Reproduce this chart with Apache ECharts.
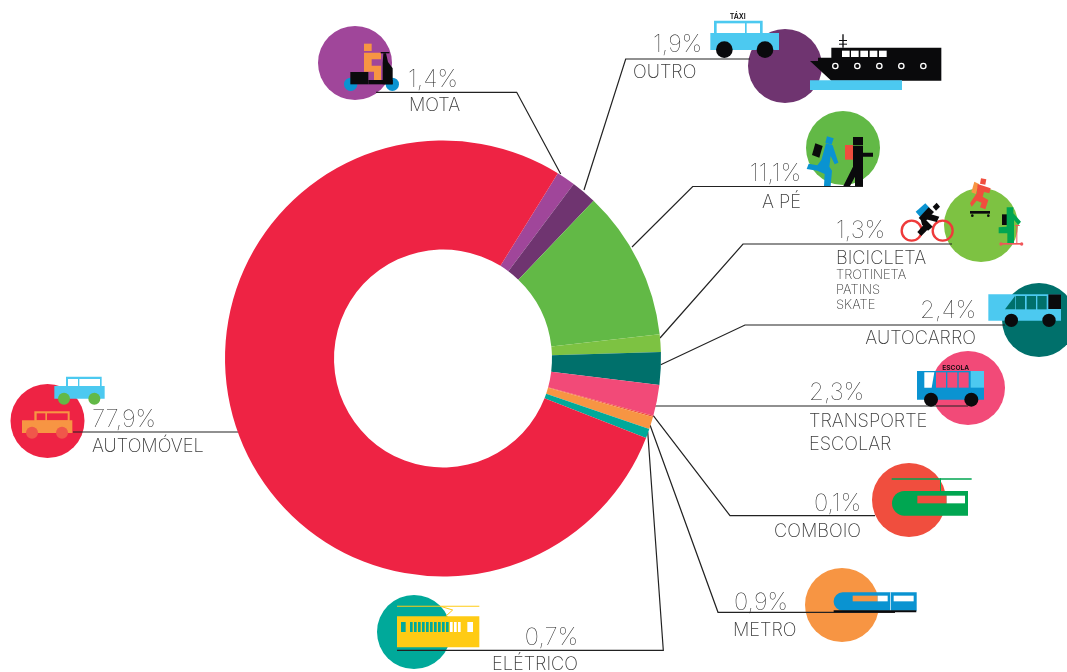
<!DOCTYPE html>
<html>
<head>
<meta charset="utf-8">
<title>Modos de transporte</title>
<style>
html,body{margin:0;padding:0;background:#fff;}
#main{width:1067px;height:672px;}
</style>
<script src="https://cdn.jsdelivr.net/npm/echarts@6/dist/echarts.min.js"></script>
</head>
<body>
<div id="main"></div>
<script>
var categories = ['MOTA','OUTRO','A PÉ','BICICLETA','AUTOCARRO','TRANSPORTE','COMBOIO','METRO','ELÉTRICO','AUTOMÓVEL'];
var shares = [1.4,1.9,11.1,1.3,2.4,2.3,0.1,0.9,0.7,77.9];
var sliceColors = ['#A0469A','#6F3470','#62B946','#7DC242','#00706B','#F24A78','#F04E3E','#F79543','#00A99A','#EE2344'];

var FONT = 'Inter, Lato, sans-serif';
var SKY = '#4CC9F0', BLUE = '#0A93D1', GREEN = '#00A651', RED = '#F04E3E', INK = '#0A0A0C';

// small helpers for the drawn decorations
function R(x,y,w,h,c,r){ return {type:'rect',silent:true,shape:{x:x,y:y,width:w,height:h,r:r||0},style:{fill:c}}; }
function C(x,y,r,c){ return {type:'circle',silent:true,shape:{cx:x,cy:y,r:r},style:{fill:c}}; }
function P(pts,c){ return {type:'polygon',silent:true,shape:{points:pts},style:{fill:c}}; }
function O(x,y,r,c,w){ return {type:'circle',silent:true,shape:{cx:x,cy:y,r:r},style:{fill:'none',stroke:c,lineWidth:w}}; }
function L(pts,c,w){ return {type:'polyline',silent:true,shape:{points:pts},style:{fill:'none',stroke:c||'#222',lineWidth:w||1.2}}; }
function T(x,base,str,size,align){
    var big = size > 20;
    return {type:'text',silent:true,x:x,y:base-size*0.28,style:{text:str,fill:big?'#1c1c1c':'#3c3c3c',font:(big?'100 ':'200 ')+size+'px '+FONT,align:align||'left',verticalAlign:'middle'}};
}
// icons are given in the pixels of a 3x crop, ox/oy is the crop corner
function icon(ox,oy,children){ return {type:'group',x:ox,y:oy,scaleX:1/3,scaleY:1/3,silent:true,children:children}; }
function pct(i){ return shares[i].toFixed(1).replace('.',',')+'%'; }

var discs = [
    C(355,63,37,sliceColors[0]), C(785,66,37,sliceColors[1]), C(843,148,37,sliceColors[2]),
    C(981,225,37,sliceColors[3]), C(1039,320,37,sliceColors[4]), C(968,388,37,sliceColors[5]),
    C(909,500,37,sliceColors[6]), C(842,605,37,sliceColors[7]), C(414,632,37,sliceColors[8]),
    C(47.5,421,37,sliceColors[9])
];

var leaders = [
    L([[376,92.3],[516.7,92.3],[560.7,174]]),
    L([[750,59],[625.7,59],[584,190]]),
    L([[863,186.5],[692.7,186.5],[632,247]]),
    L([[952,244],[743,244],[660,338]]),
    L([[1005,325],[745,325],[660.7,364.7]]),
    L([[968,406],[655,406]]),
    L([[875,515.7],[730,515.7],[653.3,415.7]]),
    L([[895,612.3],[718,612.3],[650,425]]),
    L([[397,650.3],[663.3,650.3],[647.7,431.7]]),
    L([[73,432],[238.7,432]])
];

var labels = [
    T(408,87,pct(0),24), T(409,111,categories[0],18.2),
    T(653,52,pct(1),24), T(633,78,categories[1],18.2),
    T(801,181,pct(2),24,'right'), T(801,208,categories[2],18.2,'right'),
    T(836,238,pct(3),24), T(836,264,categories[3],18.2),
    T(836,279,'TROTINETA',13), T(836,294,'PATINS',13), T(836,309,'SKATE',13),
    T(976,318,pct(4),24,'right'), T(976,344,categories[4],18.2,'right'),
    T(809,400,pct(5),24), T(809,427,categories[5],18.2), T(809,450,'ESCOLAR',18.2),
    T(861,511,pct(6),24,'right'), T(861,537,categories[6],18.2,'right'),
    T(734,610,pct(7),24), T(733,636,categories[7],18.2),
    T(578,645,pct(8),24,'right'), T(492,670,categories[8],18.2),
    T(92,427,pct(9),24), T(92,452,categories[9],18.2)
];

var scooter = icon(300,0,[
    C(152,253,20,BLUE), C(277,253,20,BLUE),
    R(192,131,23,22,'#F79543'),
    P([[192,158],[243,158],[243,178],[215,178],[215,197],[243,197],[243,240],[222,240],[222,215],[192,215]],'#F79543'),
    R(151,216,54,37,INK), R(205,240,73,13,INK),
    R(242,156,26,4,INK),
    P([[250,160],[258,160],[264,186],[278,205],[278,253],[248,253],[248,190]],INK)
]);

var taxi = icon(700,0,[
    R(42,62,146,40,SKY), R(50,70,85,30,'#fff'), R(140,70,40,30,'#fff'),
    R(31,99,206,51,SKY), C(73,149,25,INK), C(195,149,25,INK),
    {type:'text',silent:true,x:113,y:50,style:{text:'TÁXI',fill:INK,font:'600 21px '+FONT,align:'center',verticalAlign:'middle'}}
]);

var ship = icon(700,0,[
    R(427,103,4,40,INK), R(417,120,24,3,INK), R(417,131,24,3,INK),
    P([[394,143],[724,143],[724,242],[394,242],[330,183],[354,183],[354,173],[394,173]],INK),
    R(426,152,23,19,'#fff'), R(453,152,23,19,'#fff'), R(481,152,23,19,'#fff'), R(509,152,23,19,'#fff'), R(537,152,23,19,'#fff'),
    O(406,198,8,'#fff',4), O(472,198,8,'#fff',4), O(538,198,8,'#fff',4), O(604,198,8,'#fff',4), O(670,198,8,'#fff',4),
    R(330,241,276,29,SKY)
]);

var walkers = icon(700,0,[
    P([[346,430],[368,438],[358,473],[336,465]],INK),
    P([[381,409],[401,415],[395,434],[376,428]],BLUE),
    P([[378,430],[398,436],[415,488],[404,493],[392,468],[388,500],[396,512],[392,558],[372,558],[374,522],[352,512],[320,507],[326,491],[352,496],[364,480]],BLUE),
    R(435,435,24,44,RED),
    R(459,411,30,25,INK),
    P([[459,438],[489,438],[489,458],[519,458],[519,470],[489,470],[489,558],[465,558],[465,530],[450,558],[430,558],[459,500]],INK)
]);

var riders = icon(800,170,[
    O(335,182,30,'#EE3A3A',7), O(428,182,30,'#EE3A3A',7),
    P([[347,125],[376,100],[390,115],[360,140]],BLUE),
    P([[398,110],[410,98],[420,110],[408,122]],INK),
    P([[386,112],[402,126],[372,158],[356,144]],INK),
    P([[378,128],[418,140],[410,156],[372,146]],INK),
    P([[360,140],[378,150],[398,170],[384,182],[366,164]],INK),
    P([[352,186],[370,166],[384,178],[364,198]],INK),
    P([[543,25],[559,28],[556,44],[540,41]],RED),
    P([[523,35],[537,42],[527,72],[514,67]],'#F79543'),
    P([[533,42],[572,55],[568,70],[552,66],[548,80],[565,90],[556,118],[540,112],[545,98],[530,92],[515,110],[510,100],[530,70]],RED),
    R(510,123,60,8,INK), C(517,137,4,INK), C(565,137,4,INK),
    R(606,133,17,32,INK),
    P([[620,112],[640,112],[640,130],[663,155],[655,165],[642,150],[642,220],[622,220],[622,190],[596,190],[596,172],[620,170]],GREEN),
    R(649,165,3,56,'#F0575A'), R(645,165,14,3,'#F0575A'), R(600,219,65,5,'#F0575A'),
    C(603,222,5,'#F0575A'), C(665,222,5,'#F0575A')
]);

var coach = icon(800,170,[
    R(565,373,218,79,SKY),
    P([[615,418],[645,378],[645,418]],sliceColors[4]),
    R(647,378,28,40,sliceColors[4]), R(680,378,28,40,sliceColors[4]), R(712,378,28,40,sliceColors[4]),
    R(745,373,38,44,INK),
    C(634,451,20,INK), C(747,451,20,INK)
]);

var schoolBus = icon(800,170,[
    R(351,603,201,86,BLUE),
    P([[373,607],[403,607],[395,653],[373,653]],'#fff'),
    R(408,607,30,46,sliceColors[5]), R(442,607,30,46,sliceColors[5]), R(476,607,30,46,sliceColors[5]),
    R(512,603,40,50,SKY),
    C(393,689,21,INK), C(514,689,21,INK),
    {type:'text',silent:true,x:467,y:593,style:{text:'ESCOLA',fill:INK,font:'600 20px '+FONT,align:'center',verticalAlign:'middle'}}
]);

var train = icon(720,400,[
    R(515,235,240,4,GREEN), R(660,235,3,38,GREEN),
    R(516,273,228,74,GREEN,[37,0,0,37]),
    R(592,287,88,23,RED), R(680,287,55,23,'#fff')
]);

var metro = icon(720,400,[
    R(341,577,249,55,BLUE,[27,0,0,27]),
    R(398,587,75,17,sliceColors[7]), R(473,587,30,17,'#fff'), R(521,587,60,17,'#fff'),
    R(511,577,2,55,'#fff'), R(341,631,248,6,INK)
]);

var tramWindows = [];
[93,120,132,144,156,168,180,192,204,216,228,240,252,264].forEach(function(x){
    tramWindows.push(R(x,126,x==93?14:8,30,x<240?sliceColors[8]:'#fff'));
});
tramWindows.push(R(292,126,17,30,'#fff'));
var tram = icon(370,580,[
    R(81,77,247,3,'#FFCB14'),
    L([[215,80],[248,90],[228,108]],'#FFCB14',3),
    R(81,109,247,93,'#FFCB14')
].concat(tramWindows));

var cars = icon(0,360,[
    R(198,50,107,35,SKY), R(204,57,30,25,'#fff'), R(238,57,62,25,'#fff'),
    R(163,78,151,38,SKY), C(192,116,18,'#62B946'), C(283,116,18,'#62B946'),
    R(103,154,106,30,'#F79543'), R(110,160,26,21,sliceColors[9]), R(141,160,62,21,sliceColors[9]),
    R(66,181,151,38,'#F79543'), C(96,218,18,'#F0574A'), C(186,218,18,'#F0574A')
]);

var myChart = echarts.init(document.getElementById('main'));
myChart.setOption({
    animation: false,
    backgroundColor: '#fff',
    series: [{
        type: 'pie',
        silent: true,
        center: [443, 358.5],
        radius: [109, 218],
        startAngle: 58.2,
        clockwise: true,
        label: {show: false},
        labelLine: {show: false},
        data: categories.map(function(name, i){
            return {name: name, value: shares[i], itemStyle: {color: sliceColors[i]}};
        })
    }],
    graphic: {
        elements: [].concat(discs, leaders, labels, [scooter, taxi, ship, walkers, riders, coach, schoolBus, train, metro, tram, cars])
    }
});
</script>
</body>
</html>
